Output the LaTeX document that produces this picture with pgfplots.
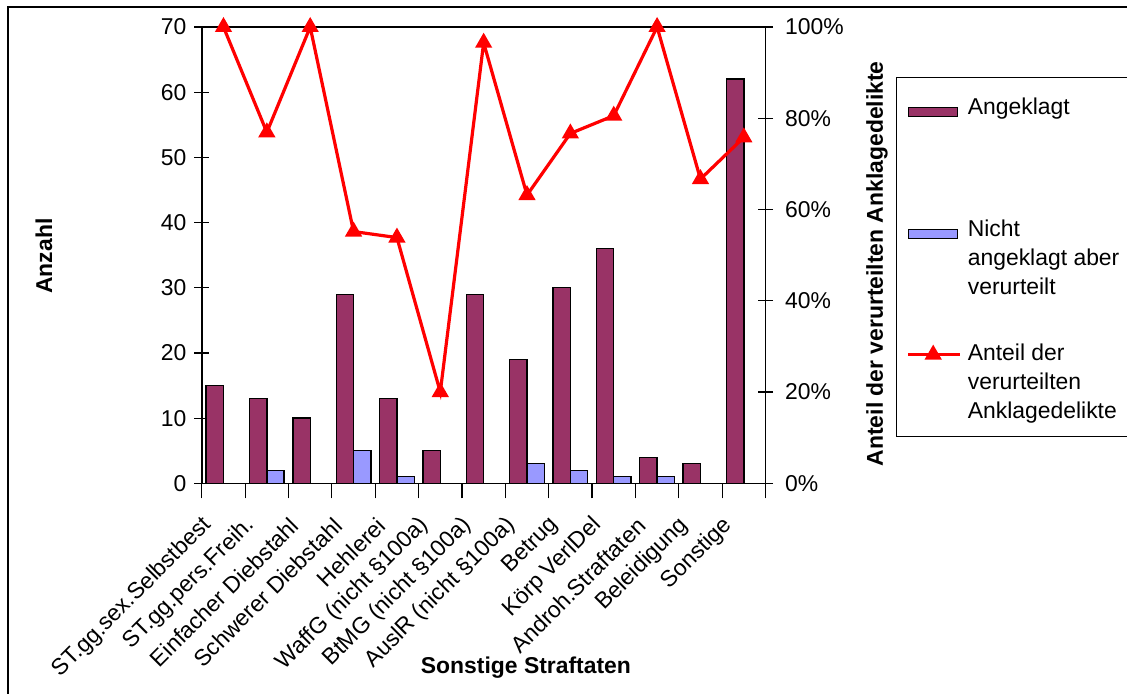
\documentclass[border=0pt]{standalone}
\usepackage{pgfplots}
\pgfplotsset{compat=1.18}
\usepackage{fontspec}
\setmainfont{Liberation Sans}
\definecolor{angek}{HTML}{993366}
\definecolor{nicht}{HTML}{9999FF}
\newcommand{\cfont}{\fontsize{11.5}{14.5}\selectfont}
\newcommand{\nl}[1]{\rule[-4.35bp]{0pt}{14.5bp}#1}
\begin{document}
\cfont
\begin{tikzpicture}
\pgfplotsset{
  every axis/.append style={font=\cfont},
  /pgf/number format/assume math mode=true,
}
\begin{axis}[
  at={(100.9bp,105.35bp)}, anchor=south west,
  scale only axis, width=281.85bp, height=228.15bp,
  xmin=-0.5, xmax=12.5, ymin=0, ymax=70,
  ytick={0,10,...,70}, ytick pos=left,
  xtick={-0.5,0.5,...,12.5}, xticklabels={}, xtick pos=bottom,
  extra x ticks={0,1,...,12},
  extra x tick labels={ST.gg.sex.Selbstbest,ST.gg.pers.Freih.,Einfacher Diebstahl,Schwerer Diebstahl,Hehlerei,WaffG (nicht §100a),BtMG (nicht §100a),AuslR (nicht §100a),Betrug,Körp VerlDel,Androh.Straftaten,Beleidigung,Sonstige},
  extra x tick style={tick style={draw=none}},
  xticklabel style={font=\cfont, xshift=-5bp, yshift=-9bp, rotate=45, anchor=east},
  yticklabel style={font=\cfont},
  tick align=center, major tick length=7.5bp,
  tick style={black, line width=0.6bp},
  axis line style={line width=0.75bp},
  ybar=0pt, bar width=8.67bp,
  ylabel={\bfseries Anzahl},
  ylabel style={at={(axis description cs:-0.28,0.498)}, anchor=center, font=\cfont},
  xlabel={\bfseries Sonstige Straftaten},
  xlabel style={at={(axis description cs:0.575,-0.405)}, anchor=center, font=\cfont},
]
\addplot[fill=angek, draw=black, line width=0.7bp] coordinates {
 (0,15) (1,13) (2,10) (3,29) (4,13) (5,5) (6,29) (7,19) (8,30) (9,36) (10,4) (11,3) (12,62)};
\addplot[fill=nicht, draw=black, line width=0.7bp] coordinates {
 (1,2) (3,5) (4,1) (7,3) (8,2) (9,1) (10,1)};
\end{axis}
\begin{axis}[
  at={(100.9bp,105.35bp)}, anchor=south west,
  scale only axis, width=281.85bp, height=228.15bp,
  xmin=-0.5, xmax=12.5, ymin=0, ymax=100,
  axis x line=none, axis y line*=right,
  ytick={0,20,...,100},
  yticklabel={\pgfmathprintnumber{\tick}\%},
  yticklabel style={font=\cfont, xshift=2bp},
  tick align=center, major tick length=7.5bp,
  tick style={black, line width=0.6bp},
  axis line style={line width=0.75bp},
  clip=false,
  ylabel={\bfseries Anteil der verurteilten Anklagedelikte},
  ylabel style={at={(axis description cs:1.198,0.481)}, anchor=center, rotate=0, font=\cfont},
  legend style={at={(1,1)}, anchor=north west, xshift=65.25bp, yshift=-25bp,
    draw=black, line width=0.6bp, inner xsep=5bp, inner ysep=2.65bp,
    row sep=0pt, column sep=0pt, cells={anchor=base west},
    nodes={inner xsep=3bp, inner ysep=0pt, text depth=, text height=}, font=\cfont},
]
\addlegendimage{legend image code/.code={\draw[fill=angek, draw=black, line width=0.7bp] (0bp,-1bp) rectangle (24.5bp,3.6bp);}}
\addlegendentry{\rule[-50.85bp]{0pt}{66.7bp}Angeklagt}
\addlegendimage{legend image code/.code={\draw[fill=nicht, draw=black, line width=0.7bp] (0bp,-1bp) rectangle (24.5bp,3.6bp);}}
\addlegendentry{\nl{Nicht}}
\addlegendimage{empty legend}
\addlegendentry{\nl{angeklagt aber}}
\addlegendimage{empty legend}
\addlegendentry{\rule[-22.85bp]{0pt}{33bp}verurteilt}
\addplot[red, line width=1.6bp, mark=triangle*, mark size=3.4bp, mark options={solid, fill=red, draw=red},
  legend image code/.code={\draw[red, line width=1.6bp] (0bp,3bp) -- (26bp,3bp); \fill[red] (12.5bp,3bp) +(90:3.4bp) -- +(210:3.4bp) -- +(330:3.4bp) -- cycle;}] coordinates {
 (0,100) (1,76.92) (2,100) (3,55.17) (4,53.85) (5,20) (6,96.55) (7,63.16) (8,76.67) (9,80.56) (10,100) (11,66.67) (12,75.81)};
\addlegendentry{\nl{Anteil der}}
\addlegendimage{empty legend}
\addlegendentry{\nl{verurteilten}}
\addlegendimage{empty legend}
\addlegendentry{\rule[-6.35bp]{0pt}{16.5bp}Anklagedelikte}
\end{axis}
\draw[line width=0.75bp] (4bp,0bp) -- (4bp,343.5bp) -- (563.5bp,343.5bp);
\pgfresetboundingbox
\useasboundingbox (0,0) rectangle (563.5bp,347bp);
\end{tikzpicture}
\end{document}
